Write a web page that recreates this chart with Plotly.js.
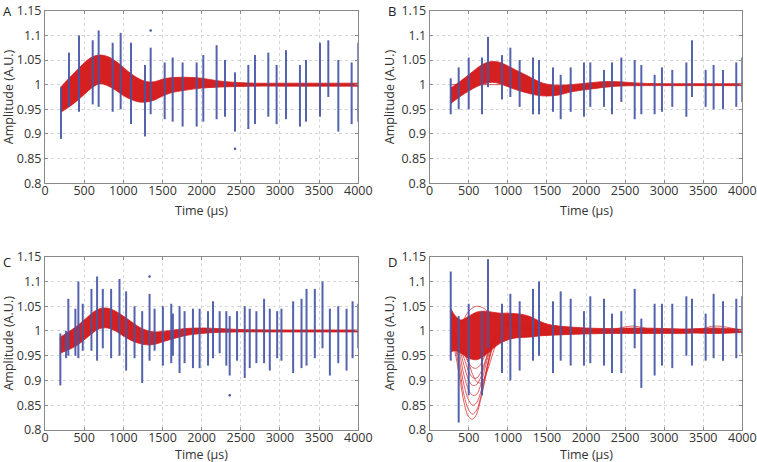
<!DOCTYPE html>
<html>
<head>
<meta charset="utf-8">
<script src="https://cdn.plot.ly/plotly-3.0.1.min.js"></script>
<style>html,body{margin:0;padding:0;background:#fff;}#chart{width:757px;height:462px;}</style>
</head>
<body>
<div id="chart"></div>
<script>
// ---------- tick labels / titles ----------
const xTicks = [0, 500, 1000, 1500, 2000, 2500, 3000, 3500, 4000];
const yTicks = [0.8, 0.85, 0.9, 0.95, 1, 1.05, 1.1, 1.15];
const yTickText = ['0.8', '0.85', '0.9', '0.95', '1', '1.05', '1.1', '1.15'];
const panelLabels = ['A', 'B', 'C', 'D'];
const xTitle = 'Time (µs)';
const yTitle = 'Amplitude (A.U.)';

// ---------- Panel A ----------
const tA = [200, 300, 400, 500, 600, 700, 800, 900, 1000, 1100, 1200, 1300, 1400, 1500, 1600, 1800, 2000, 2200, 2400, 2700, 3000, 3500, 4000];
const upperA = [0.995, 1.012, 1.028, 1.044, 1.056, 1.060, 1.057, 1.048, 1.035, 1.022, 1.012, 1.006, 1.006, 1.011, 1.014, 1.015, 1.013, 1.008, 1.005, 1.003, 1.003, 1.003, 1.003];
const lowerA = [0.944, 0.954, 0.966, 0.980, 0.994, 1.002, 0.998, 0.989, 0.978, 0.970, 0.965, 0.965, 0.969, 0.977, 0.983, 0.989, 0.993, 0.995, 0.996, 0.997, 0.997, 0.997, 0.997];
const colTA = [204, 306, 434, 609, 685, 864, 966, 1098, 1277, 1349, 1528, 1630, 1757, 1936, 2021, 2191, 2298, 2426, 2596, 2681, 2851, 2957, 3077, 3255, 3332, 3511, 3617, 3745, 3915, 4000];
const colMaxA = [0.995, 1.065, 1.10, 1.09, 1.11, 1.085, 1.105, 1.085, 1.04, 1.075, 1.045, 1.055, 1.045, 1.045, 1.06, 1.08, 1.05, 1.025, 1.04, 1.06, 1.065, 1.04, 1.07, 1.04, 1.05, 1.085, 1.09, 1.05, 1.045, 1.085];
const colMinA = [0.89, 0.955, 0.945, 0.96, 0.955, 0.945, 0.95, 0.92, 0.895, 0.94, 0.93, 0.925, 0.915, 0.915, 0.925, 0.93, 0.935, 0.905, 0.91, 0.92, 0.935, 0.92, 0.93, 0.915, 0.925, 0.935, 0.975, 0.905, 0.92, 0.925];
const dotTA = [1349, 2426];
const dotVA = [1.11, 0.87];

// ---------- Panel B ----------
const tB = [270, 400, 500, 600, 700, 800, 900, 1000, 1100, 1200, 1300, 1400, 1500, 1650, 1800, 2000, 2200, 2400, 2700, 3000, 3500, 4000];
const upperB = [0.993, 1.008, 1.020, 1.033, 1.043, 1.047, 1.045, 1.038, 1.030, 1.022, 1.014, 1.006, 1.001, 0.999, 1.000, 1.003, 1.006, 1.006, 1.003, 1.002, 1.002, 1.002];
const lowerB = [0.962, 0.977, 0.987, 0.996, 1.002, 1.005, 1.002, 0.996, 0.990, 0.985, 0.981, 0.978, 0.977, 0.979, 0.985, 0.990, 0.994, 0.997, 0.998, 0.998, 0.998, 0.998];
const flatTB = [270, 1100];
const flatVB = [1.0, 1.0];
const colTB = [269, 371, 499, 669, 746, 925, 1032, 1151, 1322, 1399, 1578, 1676, 1804, 1974, 2055, 2230, 2333, 2452, 2623, 2708, 2878, 2972, 3104, 3284, 3356, 3531, 3633, 3753, 3923, 4000];
const colMaxB = [1.013, 1.035, 1.055, 1.055, 1.097, 1.06, 1.075, 1.05, 1.055, 1.05, 1.035, 1.02, 1.035, 1.045, 1.045, 1.03, 1.045, 1.055, 1.05, 1.04, 1.02, 1.035, 1.03, 1.045, 1.09, 1.03, 1.04, 1.03, 1.045, 1.055];
const colMinB = [0.94, 0.95, 0.95, 0.94, 0.995, 0.97, 0.975, 0.955, 0.94, 0.94, 0.945, 0.93, 0.945, 0.935, 0.955, 0.955, 0.94, 0.965, 0.93, 0.94, 0.94, 0.945, 0.955, 0.935, 0.975, 0.955, 0.95, 0.95, 0.955, 0.965];

// ---------- Panel C ----------
const tC = [190, 300, 400, 500, 600, 700, 800, 900, 1000, 1100, 1200, 1300, 1400, 1500, 1650, 1800, 2000, 2200, 2500, 3000, 3500, 4000];
const upperC = [0.987, 0.998, 1.009, 1.022, 1.036, 1.045, 1.046, 1.040, 1.030, 1.019, 1.008, 1.001, 0.998, 0.999, 1.002, 1.005, 1.006, 1.005, 1.003, 1.002, 1.002, 1.002];
const lowerC = [0.955, 0.962, 0.970, 0.982, 0.995, 1.005, 1.006, 1.000, 0.990, 0.981, 0.975, 0.972, 0.973, 0.978, 0.985, 0.991, 0.995, 0.997, 0.998, 0.998, 0.998, 0.998];
const colTC = [196, 269, 298, 388, 426, 482, 593, 665, 738, 844, 951, 1036, 1143, 1241, 1335, 1399, 1505, 1612, 1633, 1718, 1782, 1889, 1974, 2081, 2145, 2230, 2315, 2358, 2452, 2550, 2614, 2699, 2797, 2870, 2964, 3019, 3168, 3275, 3339, 3445, 3543, 3637, 3744, 3850, 3927, 4000];
const colMaxC = [0.995, 1.0, 1.065, 1.045, 1.1, 1.055, 1.085, 1.11, 1.085, 1.085, 1.105, 1.08, 1.05, 1.04, 1.075, 1.045, 1.05, 1.055, 1.035, 1.05, 1.04, 1.045, 1.045, 1.04, 1.06, 1.04, 1.04, 1.03, 1.04, 1.05, 1.045, 1.04, 1.065, 1.045, 1.04, 1.045, 1.06, 1.065, 1.085, 1.085, 1.10, 1.045, 1.05, 1.045, 1.06, 1.055];
const colMinC = [0.89, 0.945, 0.95, 0.95, 0.945, 0.96, 0.96, 0.94, 0.965, 0.945, 0.95, 0.92, 0.945, 0.895, 0.94, 0.96, 0.93, 0.935, 0.95, 0.915, 0.935, 0.925, 0.925, 0.93, 0.945, 0.955, 0.93, 0.91, 0.94, 0.905, 0.925, 0.935, 0.935, 0.92, 0.945, 0.94, 0.915, 0.925, 0.93, 0.945, 0.965, 0.91, 0.935, 0.92, 0.945, 0.965];
const dotTC = [1335, 2358];
const dotVC = [1.11, 0.87];

// ---------- Panel D ----------
const tD = [270, 330, 400, 500, 600, 700, 800, 900, 1000, 1100, 1200, 1300, 1400, 1500, 1650, 1800, 2000, 2300, 2600, 3000, 3300, 3650, 4000];
const upperD = [1.045, 1.030, 1.022, 1.030, 1.038, 1.040, 1.038, 1.036, 1.036, 1.035, 1.033, 1.028, 1.020, 1.014, 1.010, 1.008, 1.006, 1.005, 1.006, 1.005, 1.004, 1.006, 1.003];
const lowerD = [0.958, 0.960, 0.955, 0.945, 0.942, 0.950, 0.963, 0.975, 0.982, 0.986, 0.987, 0.988, 0.990, 0.991, 0.992, 0.993, 0.994, 0.995, 0.995, 0.995, 0.996, 0.995, 0.997];
const humpTD = [270, 400, 500, 600, 700, 800, 900, 1000, 1200, 1400, 1600];
const humpVD = [1.0, 1.015, 1.040, 1.050, 1.045, 1.030, 1.020, 1.015, 1.010, 1.005, 1.0];
const wiggleTD = [2300, 2600, 2900, 3300, 3650, 4000];
const wiggleVD = [1.0, 1.010, 1.0, 0.995, 1.010, 1.0];
const dipTD = [270, 320, 380, 440, 500, 550, 600, 650, 700, 760, 830, 900, 1000, 1100, 1250, 1500];
const dip1D = [0.990, 0.960, 0.910, 0.855, 0.826, 0.822, 0.832, 0.860, 0.895, 0.940, 0.980, 1.005, 1.020, 1.020, 1.010, 1.0];
const dip2D = [0.995, 0.970, 0.925, 0.870, 0.840, 0.832, 0.840, 0.865, 0.900, 0.945, 0.985, 1.005, 1.018, 1.015, 1.008, 1.0];
const dip3D = [0.990, 0.975, 0.940, 0.890, 0.860, 0.850, 0.855, 0.875, 0.905, 0.945, 0.980, 1.000, 1.015, 1.015, 1.005, 1.0];
const dip4D = [1.000, 0.985, 0.955, 0.910, 0.880, 0.870, 0.872, 0.890, 0.920, 0.955, 0.985, 1.003, 1.015, 1.012, 1.005, 1.0];
const dip5D = [1.000, 0.990, 0.965, 0.930, 0.900, 0.890, 0.892, 0.905, 0.930, 0.960, 0.985, 1.000, 1.012, 1.010, 1.004, 1.0];
const dip6D = [0.995, 0.985, 0.970, 0.945, 0.918, 0.906, 0.905, 0.915, 0.935, 0.962, 0.985, 1.000, 1.010, 1.010, 1.003, 1.0];
const dip7D = [1.000, 0.990, 0.975, 0.955, 0.935, 0.926, 0.925, 0.932, 0.948, 0.968, 0.988, 1.000, 1.008, 1.008, 1.003, 1.0];
const dip8D = [1.000, 0.995, 0.980, 0.960, 0.935, 0.912, 0.898, 0.895, 0.905, 0.930, 0.965, 0.990, 1.010, 1.012, 1.005, 1.0];
const colTD = colTB;
const colMaxD = [1.12, 1.03, 1.055, 1.04, 1.145, 1.055, 1.075, 1.06, 1.085, 1.10, 1.06, 1.08, 1.065, 1.04, 1.07, 1.065, 1.035, 1.04, 1.085, 1.025, 1.055, 1.055, 1.055, 1.07, 1.065, 1.035, 1.075, 1.06, 1.065, 1.07];
const colMinD = [0.94, 0.815, 0.87, 0.87, 0.965, 0.915, 0.90, 0.92, 0.94, 0.95, 0.915, 0.94, 0.93, 0.93, 0.935, 0.93, 0.915, 0.915, 0.965, 0.885, 0.91, 0.93, 0.925, 0.95, 0.93, 0.94, 0.945, 0.94, 0.945, 0.955];

// ---------- styling ----------
const RED = 'rgb(212,32,32)';
const BLUE = 'rgb(70,86,166)';
const FONT = 'Open Sans, sans-serif';
const TXT = '#333';
const FS = 12.5;

function columns(ts, mins, maxs) {
  const x = [], y = [];
  ts.forEach((t, i) => { x.push(t, t, null); y.push(mins[i], maxs[i], null); });
  return {x, y};
}

const traces = [];
function addPanel(ax, t, lo, hi, extras, colT, colMin, colMax, dotT, dotV) {
  const xa = 'x' + ax, ya = 'y' + ax;
  traces.push({type: 'scatter', mode: 'lines', x: t, y: lo, xaxis: xa, yaxis: ya,
    line: {color: RED, width: 0.8, shape: 'spline'}, hoverinfo: 'skip', showlegend: false});
  traces.push({type: 'scatter', mode: 'lines', x: t, y: hi, xaxis: xa, yaxis: ya, fill: 'tonexty',
    fillcolor: RED, line: {color: RED, width: 0.8, shape: 'spline'}, hoverinfo: 'skip', showlegend: false});
  extras.forEach(e => traces.push({type: 'scatter', mode: 'lines', x: e[0], y: e[1], xaxis: xa, yaxis: ya,
    line: {color: RED, width: 0.8, shape: 'spline'}, opacity: 0.9, hoverinfo: 'skip', showlegend: false}));
  const c = columns(colT, colMin, colMax);
  traces.push({type: 'scatter', mode: 'lines', x: c.x, y: c.y, xaxis: xa, yaxis: ya,
    line: {color: BLUE, width: 2}, opacity: 0.92, hoverinfo: 'skip', showlegend: false});
  if (dotT) traces.push({type: 'scatter', mode: 'markers', x: dotT, y: dotV, xaxis: xa, yaxis: ya,
    marker: {color: BLUE, size: 2.5}, hoverinfo: 'skip', showlegend: false});
}

addPanel('', tA, lowerA, upperA, [], colTA, colMinA, colMaxA, dotTA, dotVA);
addPanel('2', tB, lowerB, upperB, [[flatTB, flatVB]], colTB, colMinB, colMaxB);
addPanel('3', tC, lowerC, upperC, [], colTC, colMinC, colMaxC, dotTC, dotVC);
addPanel('4', tD, lowerD, upperD,
  [[humpTD, humpVD], [wiggleTD, wiggleVD], [dipTD, dip1D], [dipTD, dip2D], [dipTD, dip3D], [dipTD, dip4D],
   [dipTD, dip5D], [dipTD, dip6D], [dipTD, dip7D], [dipTD, dip8D]],
  colTD, colMinD, colMaxD);

const W = 757, H = 462;
const xDomL = [45 / W, 358.3 / W], xDomR = [429.7 / W, 742.3 / W];
const yDomT = [1 - 183.3 / H, 1 - 10.7 / H], yDomB = [1 - 430 / H, 1 - 256.7 / H];

function xAxis(dom, anchor) {
  return {domain: dom, anchor: anchor, range: [0, 4000], tickvals: xTicks, ticks: 'inside', ticklen: 3,
    tickcolor: '#8a8a8a', showline: true, linecolor: '#8a8a8a', linewidth: 1, mirror: 'ticks',
    showgrid: true, gridcolor: '#d6d6d6', griddash: 'dot', gridwidth: 1, zeroline: false,
    ticklabeloverflow: 'allow', ticklabelstandoff: -4,
    tickfont: {family: FONT, size: FS, color: TXT}};
}
function yAxis(dom, anchor) {
  return {domain: dom, anchor: anchor, range: [0.8, 1.15], tickvals: yTicks, ticktext: yTickText, ticks: 'inside', ticklen: 3,
    tickcolor: '#8a8a8a', showline: true, linecolor: '#8a8a8a', linewidth: 1, mirror: 'ticks',
    showgrid: true, gridcolor: '#d6d6d6', griddash: 'dot', gridwidth: 1, zeroline: false,
    tickfont: {family: FONT, size: FS, color: TXT},
    title: {text: yTitle, font: {family: FONT, size: FS, color: TXT}, standoff: 4}};
}

const ann = [];
const letterPos = [[7, 0], [392, 0], [7, 251], [392, 251]];
panelLabels.forEach((l, i) => ann.push({text: l, x: letterPos[i][0] / W, y: 1 - letterPos[i][1] / H,
  xref: 'paper', yref: 'paper', showarrow: false, xanchor: 'center', yanchor: 'top',
  font: {family: FONT, size: 13, color: '#222'}}));
const xTitlePos = [[201.6, 210], [586, 210], [201.6, 454], [586, 454]];
xTitlePos.forEach(p => ann.push({text: xTitle, x: p[0] / W, y: 1 - p[1] / H,
  xref: 'paper', yref: 'paper', showarrow: false, xanchor: 'center', yanchor: 'middle',
  font: {family: FONT, size: FS, color: TXT}}));

const layout = {
  width: W, height: H, margin: {l: 0, r: 0, t: 0, b: 0}, paper_bgcolor: '#fff', plot_bgcolor: '#fff',
  showlegend: false,
  xaxis: xAxis(xDomL, 'y'), yaxis: yAxis(yDomT, 'x'),
  xaxis2: xAxis(xDomR, 'y2'), yaxis2: yAxis(yDomT, 'x2'),
  xaxis3: xAxis(xDomL, 'y3'), yaxis3: yAxis(yDomB, 'x3'),
  xaxis4: xAxis(xDomR, 'y4'), yaxis4: yAxis(yDomB, 'x4'),
  annotations: ann
};

Plotly.newPlot('chart', traces, layout, {staticPlot: true, displayModeBar: false});
</script>
</body>
</html>
